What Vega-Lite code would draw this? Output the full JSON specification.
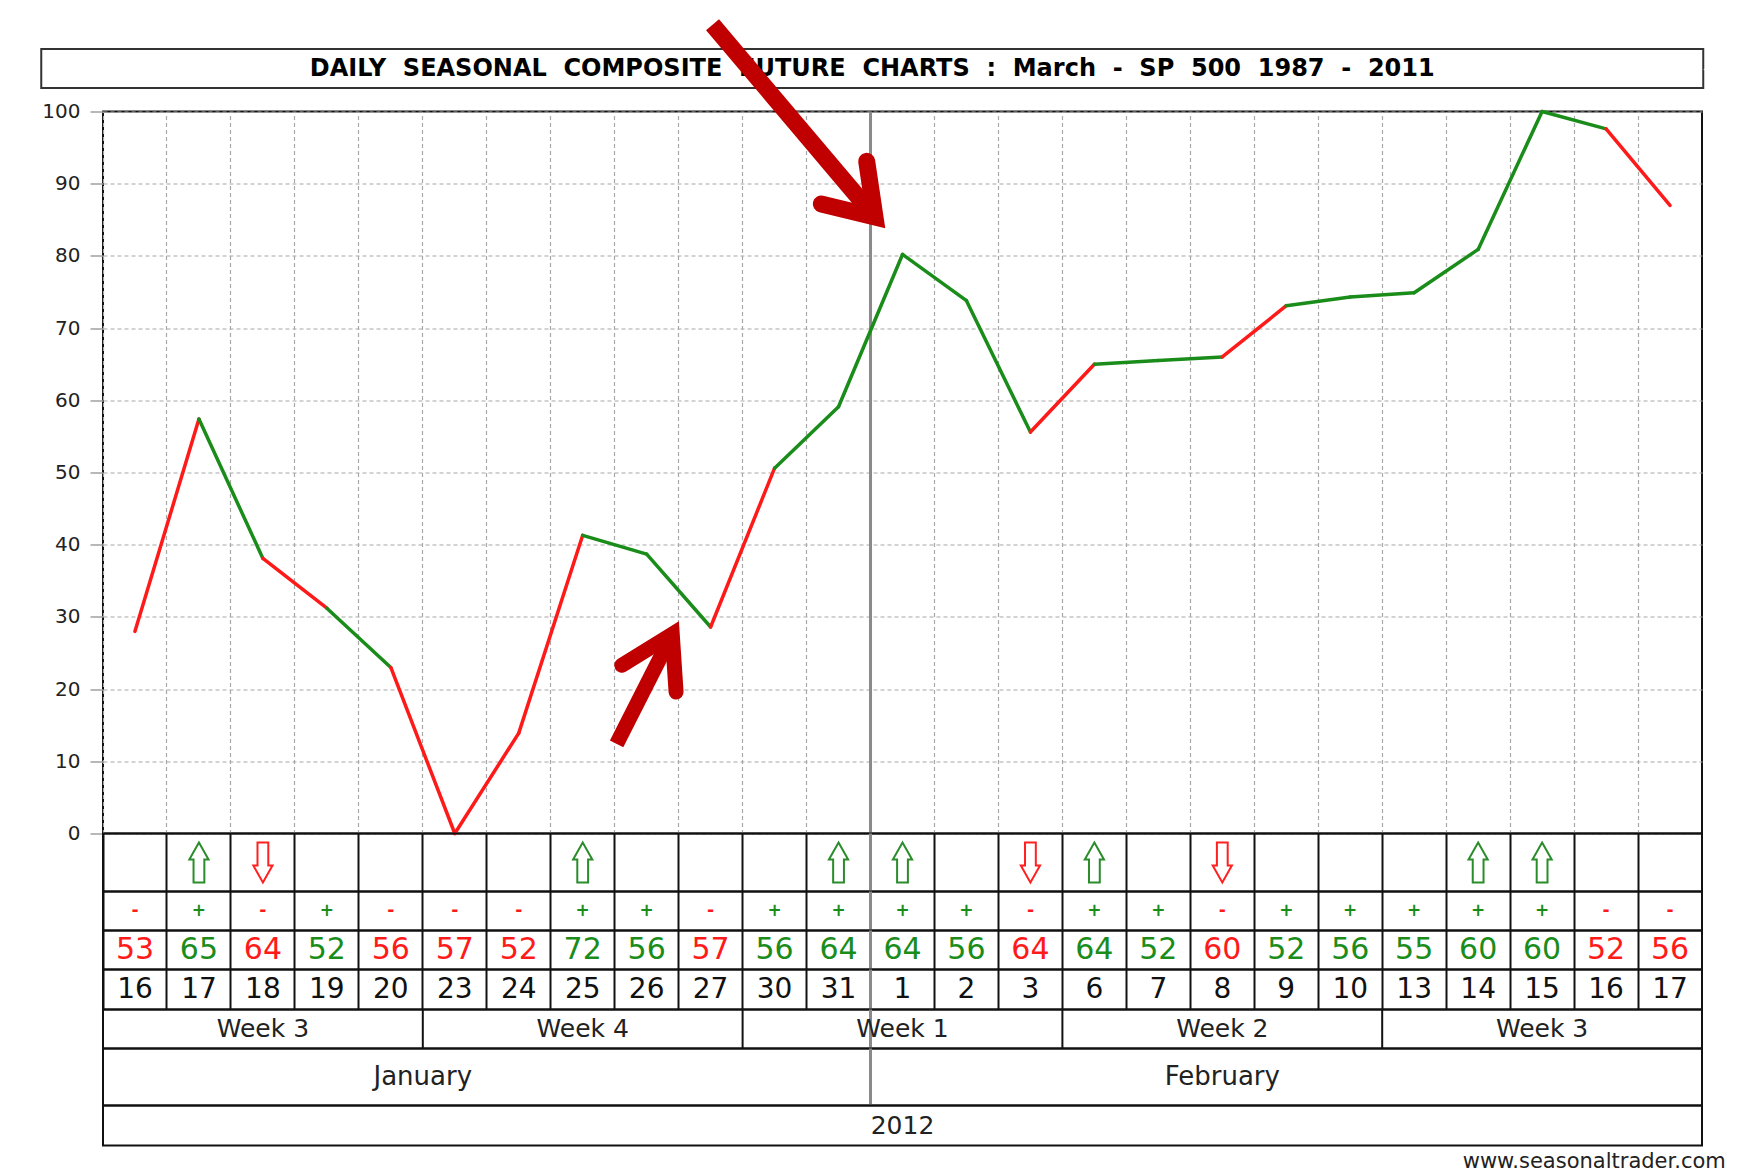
{
  "$schema": "https://vega.github.io/schema/vega-lite/v6.json",
  "background": "white",
  "padding": {"left": 40, "top": -11, "right": 0, "bottom": 0},
  "config": {
    "view": {"stroke": "#111", "strokeWidth": 2},
    "font": "DejaVu Sans",
    "axis": {"title": null}
  },
  "title": {"text": "www.seasonaltrader.com", "orient": "bottom", "anchor": "end", "font": "DejaVu Sans", "fontSize": 21, "fontWeight": "normal", "color": "#222", "offset": 4, "dx": -39},
  "datasets": {
    "days": [
      {"i": 1, "key": "J16", "day": 16, "pct": 53, "sign": "-", "arrow": null, "v": 28},
      {"i": 2, "key": "J17", "day": 17, "pct": 65, "sign": "+", "arrow": "up", "v": 57.4},
      {"i": 3, "key": "J18", "day": 18, "pct": 64, "sign": "-", "arrow": "down", "v": 38.1},
      {"i": 4, "key": "J19", "day": 19, "pct": 52, "sign": "+", "arrow": null, "v": 31.2},
      {"i": 5, "key": "J20", "day": 20, "pct": 56, "sign": "-", "arrow": null, "v": 23},
      {"i": 6, "key": "J23", "day": 23, "pct": 57, "sign": "-", "arrow": null, "v": 0},
      {"i": 7, "key": "J24", "day": 24, "pct": 52, "sign": "-", "arrow": null, "v": 13.9},
      {"i": 8, "key": "J25", "day": 25, "pct": 72, "sign": "+", "arrow": "up", "v": 41.3},
      {"i": 9, "key": "J26", "day": 26, "pct": 56, "sign": "+", "arrow": null, "v": 38.7},
      {"i": 10, "key": "J27", "day": 27, "pct": 57, "sign": "-", "arrow": null, "v": 28.6},
      {"i": 11, "key": "J30", "day": 30, "pct": 56, "sign": "+", "arrow": null, "v": 50.6},
      {"i": 12, "key": "J31", "day": 31, "pct": 64, "sign": "+", "arrow": "up", "v": 59.1},
      {"i": 13, "key": "F1", "day": 1, "pct": 64, "sign": "+", "arrow": "up", "v": 80.2},
      {"i": 14, "key": "F2", "day": 2, "pct": 56, "sign": "+", "arrow": null, "v": 73.8},
      {"i": 15, "key": "F3", "day": 3, "pct": 64, "sign": "-", "arrow": "down", "v": 55.6},
      {"i": 16, "key": "F6", "day": 6, "pct": 64, "sign": "+", "arrow": "up", "v": 65.0},
      {"i": 17, "key": "F7", "day": 7, "pct": 52, "sign": "+", "arrow": null, "v": 65.5},
      {"i": 18, "key": "F8", "day": 8, "pct": 60, "sign": "-", "arrow": "down", "v": 66.0},
      {"i": 19, "key": "F9", "day": 9, "pct": 52, "sign": "+", "arrow": null, "v": 73.1},
      {"i": 20, "key": "F10", "day": 10, "pct": 56, "sign": "+", "arrow": null, "v": 74.3},
      {"i": 21, "key": "F13", "day": 13, "pct": 55, "sign": "+", "arrow": null, "v": 74.9},
      {"i": 22, "key": "F14", "day": 14, "pct": 60, "sign": "+", "arrow": "up", "v": 80.9},
      {"i": 23, "key": "F15", "day": 15, "pct": 60, "sign": "+", "arrow": "up", "v": 100},
      {"i": 24, "key": "F16", "day": 16, "pct": 52, "sign": "-", "arrow": null, "v": 97.6},
      {"i": 25, "key": "F17", "day": 17, "pct": 56, "sign": "-", "arrow": null, "v": 87.0}
    ],
    "weeks": [
      {"week": "Week 3", "start": "J16", "mid": "J18"},
      {"week": "Week 4", "start": "J23", "mid": "J25"},
      {"week": "Week 1", "start": "J30", "mid": "F1"},
      {"week": "Week 2", "start": "F6", "mid": "F8"},
      {"week": "Week 3", "start": "F13", "mid": "F15"}
    ],
    "months": [
      {"month": "January", "start": "J16", "anchor": "J23"},
      {"month": "February", "start": "F1", "anchor": "F8"}
    ],
    "years": [{"year": "2012"}],
    "titles": [{"t": "DAILY \u00a0SEASONAL \u00a0COMPOSITE \u00a0FUTURE \u00a0CHARTS \u00a0: \u00a0March \u00a0- \u00a0SP \u00a0500 \u00a01987 \u00a0- \u00a02011"}],
    "annot": [
      {"arrow": "a1", "line": "a1s", "part": "shaft", "seq": 0, "ax": 9.53, "av": 112.0},
      {"arrow": "a1", "line": "a1s", "part": "shaft", "seq": 1, "ax": 12.07, "av": 85.4},
      {"arrow": "a1", "line": "a1h", "part": "head", "seq": 0, "ax": 11.23, "av": 87.2},
      {"arrow": "a1", "line": "a1h", "part": "head", "seq": 1, "ax": 12.07, "av": 85.4},
      {"arrow": "a1", "line": "a1h", "part": "head", "seq": 2, "ax": 11.94, "av": 93.1},
      {"arrow": "a2", "line": "a2s", "part": "shaft", "seq": 0, "ax": 8.03, "av": 12.4},
      {"arrow": "a2", "line": "a2s", "part": "shaft", "seq": 1, "ax": 8.90, "av": 27.6},
      {"arrow": "a2", "line": "a2h", "part": "head", "seq": 0, "ax": 8.11, "av": 23.3},
      {"arrow": "a2", "line": "a2h", "part": "head", "seq": 1, "ax": 8.90, "av": 27.6},
      {"arrow": "a2", "line": "a2h", "part": "head", "seq": 2, "ax": 8.96, "av": 19.6}
    ]
  },
  "spacing": -99.5,
  "center": true,
  "vconcat": [
    {
      "width": 1662,
      "height": 39,
      "view": {"stroke": "#333", "strokeWidth": 2},
      "data": {"name": "titles"},
      "mark": {"type": "text", "font": "DejaVu Sans", "fontWeight": "bold", "fontSize": 24, "color": "#000"},
      "encoding": {
        "text": {"field": "t"},
        "y": {"field": "t", "type": "nominal", "axis": {"orient": "right", "labels": false, "ticks": true, "tickSize": 60, "tickWidth": 1, "tickColor": "white", "domain": false, "grid": false, "title": null}}
      }
    },
    {
      "bounds": "flush",
      "spacing": 0,
      "vconcat": [
        {
          "width": 1599,
          "height": 722,
          "resolve": {"scale": {"x": "independent"}},
          "layer": [
            {
              "data": {"name": "months"},
              "transform": [{"filter": "datum.start != 'J16'"}],
              "mark": {"type": "rule", "color": "#8a8a8a", "strokeWidth": 3},
              "encoding": {
                "x": {"field": "start", "type": "nominal", "bandPosition": 0,
                  "scale": {"domain": ["J16","J17","J18","J19","J20","J23","J24","J25","J26","J27","J30","J31","F1","F2","F3","F6","F7","F8","F9","F10","F13","F14","F15","F16","F17"], "paddingInner": 0, "paddingOuter": 0},
                  "axis": {"labels": false, "ticks": false, "domain": false, "grid": true, "gridColor": "#a8a8a8", "gridDash": [4, 3], "gridWidth": 1.2, "bandPosition": 0}}
              }
            },
            {
              "data": {"name": "days"},
              "transform": [
                {"window": [{"op": "lead", "field": "v", "as": "nextV"}, {"op": "lead", "field": "key", "as": "nextKey"}], "sort": [{"field": "i"}]},
                {"filter": "datum.nextKey != null"}
              ],
              "mark": {"type": "rule", "strokeWidth": 3.5, "strokeCap": "round"},
              "encoding": {
                "x": {"field": "key", "type": "nominal", "bandPosition": 0.5,
                  "scale": {"domain": ["J16","J17","J18","J19","J20","J23","J24","J25","J26","J27","J30","J31","F1","F2","F3","F6","F7","F8","F9","F10","F13","F14","F15","F16","F17"], "paddingInner": 0, "paddingOuter": 0},
                  "axis": null},
                "x2": {"field": "nextKey"},
                "y": {"field": "v", "type": "quantitative",
                  "scale": {"domain": [0, 100], "nice": false, "zero": false},
                  "axis": {"values": [0, 10, 20, 30, 40, 50, 60, 70, 80, 90, 100], "grid": true, "gridColor": "#a8a8a8", "gridDash": [4, 3], "gridWidth": 1.2, "domain": false, "tickColor": "#a0a0a0", "tickSize": 13, "tickWidth": 1.5, "labelPadding": 10, "labelFont": "DejaVu Sans", "labelFontSize": 20, "labelColor": "#222"}},
                "y2": {"field": "nextV"},
                "color": {"field": "sign", "type": "nominal", "scale": {"domain": ["+", "-"], "range": ["#1a8c1a", "#ff1a1a"]}, "legend": null}
              }
            },
            {
              "data": {"name": "annot"},
              "transform": [{"filter": "datum.part == 'shaft'"}],
              "mark": {"type": "line", "color": "#c00000", "strokeCap": "butt", "strokeJoin": "miter", "clip": false},
              "encoding": {
                "x": {"field": "ax", "type": "quantitative", "scale": {"domain": [0, 25], "nice": false, "zero": false}, "axis": null},
                "y": {"field": "av", "type": "quantitative", "scale": {"domain": [0, 100], "nice": false, "zero": false}},
                "detail": {"field": "line"},
                "order": {"field": "seq"},
                "strokeWidth": {"field": "arrow", "type": "nominal", "scale": {"domain": ["a1", "a2"], "range": [17, 15]}, "legend": null}
              }
            },
            {
              "data": {"name": "annot"},
              "transform": [{"filter": "datum.part == 'head'"}],
              "mark": {"type": "line", "color": "#c00000", "strokeCap": "round", "strokeJoin": "miter", "clip": false},
              "encoding": {
                "x": {"field": "ax", "type": "quantitative", "scale": {"domain": [0, 25], "nice": false, "zero": false}, "axis": null},
                "y": {"field": "av", "type": "quantitative", "scale": {"domain": [0, 100], "nice": false, "zero": false}},
                "detail": {"field": "line"},
                "order": {"field": "seq"},
                "strokeWidth": {"field": "arrow", "type": "nominal", "scale": {"domain": ["a1", "a2"], "range": [17, 15]}, "legend": null}
              }
            }
          ]
        },
        {
          "width": 1599,
          "height": 58,
          "layer": [
            {
              "data": {"name": "months"},
              "transform": [{"filter": "datum.start != 'J16'"}],
              "mark": {"type": "rule", "color": "#8a8a8a", "strokeWidth": 3},
              "encoding": {
                "x": {"field": "start", "type": "nominal", "bandPosition": 0,
                  "scale": {"domain": ["J16","J17","J18","J19","J20","J23","J24","J25","J26","J27","J30","J31","F1","F2","F3","F6","F7","F8","F9","F10","F13","F14","F15","F16","F17"], "paddingInner": 0, "paddingOuter": 0},
                  "axis": {"labels": false, "ticks": false, "domain": false, "grid": true, "gridColor": "#111", "gridWidth": 2, "bandPosition": 0}}
              }
            },
            {
              "data": {"name": "days"},
              "transform": [{"filter": "datum.arrow != null"}],
              "mark": {"type": "point", "filled": false, "fill": "white", "fillOpacity": 1, "strokeWidth": 2, "size": 1600, "opacity": 1},
              "encoding": {
                "x": {"field": "key", "type": "nominal"},
                "shape": {"field": "arrow", "type": "nominal", "scale": {"domain": ["up", "down"], "range": ["M0,-1L0.48,-0.15L0.27,-0.15L0.27,1L-0.27,1L-0.27,-0.15L-0.48,-0.15Z", "M0,1L0.48,0.15L0.27,0.15L0.27,-1L-0.27,-1L-0.27,0.15L-0.48,0.15Z"]}, "legend": null},
                "stroke": {"field": "arrow", "type": "nominal", "scale": {"domain": ["up", "down"], "range": ["#2a8c2a", "#ff2020"]}, "legend": null}
              }
            }
          ]
        },
        {
          "width": 1599,
          "height": 39,
          "layer": [
            {
              "data": {"name": "months"},
              "transform": [{"filter": "datum.start != 'J16'"}],
              "mark": {"type": "rule", "color": "#8a8a8a", "strokeWidth": 3},
              "encoding": {
                "x": {"field": "start", "type": "nominal", "bandPosition": 0,
                  "scale": {"domain": ["J16","J17","J18","J19","J20","J23","J24","J25","J26","J27","J30","J31","F1","F2","F3","F6","F7","F8","F9","F10","F13","F14","F15","F16","F17"], "paddingInner": 0, "paddingOuter": 0},
                  "axis": {"labels": false, "ticks": false, "domain": false, "grid": true, "gridColor": "#111", "gridWidth": 2, "bandPosition": 0}}
              }
            },
            {
              "data": {"name": "days"},
              "mark": {"type": "text", "font": "DejaVu Sans", "fontWeight": "bold", "fontSize": 17},
              "encoding": {
                "x": {"field": "key", "type": "nominal"},
                "text": {"field": "sign"},
                "color": {"field": "sign", "type": "nominal", "scale": {"domain": ["+", "-"], "range": ["#0a7a0a", "#ff1a1a"]}, "legend": null}
              }
            }
          ]
        },
        {
          "width": 1599,
          "height": 39,
          "layer": [
            {
              "data": {"name": "months"},
              "transform": [{"filter": "datum.start != 'J16'"}],
              "mark": {"type": "rule", "color": "#8a8a8a", "strokeWidth": 3},
              "encoding": {
                "x": {"field": "start", "type": "nominal", "bandPosition": 0,
                  "scale": {"domain": ["J16","J17","J18","J19","J20","J23","J24","J25","J26","J27","J30","J31","F1","F2","F3","F6","F7","F8","F9","F10","F13","F14","F15","F16","F17"], "paddingInner": 0, "paddingOuter": 0},
                  "axis": {"labels": false, "ticks": false, "domain": false, "grid": true, "gridColor": "#111", "gridWidth": 2, "bandPosition": 0}}
              }
            },
            {
              "data": {"name": "days"},
              "mark": {"type": "text", "font": "DejaVu Sans", "fontSize": 30},
              "encoding": {
                "x": {"field": "key", "type": "nominal"},
                "text": {"field": "pct"},
                "color": {"field": "sign", "type": "nominal", "scale": {"domain": ["+", "-"], "range": ["#2a962a", "#ff1a1a"]}, "legend": null}
              }
            }
          ]
        },
        {
          "width": 1599,
          "height": 40,
          "layer": [
            {
              "data": {"name": "months"},
              "transform": [{"filter": "datum.start != 'J16'"}],
              "mark": {"type": "rule", "color": "#8a8a8a", "strokeWidth": 3},
              "encoding": {
                "x": {"field": "start", "type": "nominal", "bandPosition": 0,
                  "scale": {"domain": ["J16","J17","J18","J19","J20","J23","J24","J25","J26","J27","J30","J31","F1","F2","F3","F6","F7","F8","F9","F10","F13","F14","F15","F16","F17"], "paddingInner": 0, "paddingOuter": 0},
                  "axis": {"labels": false, "ticks": false, "domain": false, "grid": true, "gridColor": "#111", "gridWidth": 2, "bandPosition": 0}}
              }
            },
            {
              "data": {"name": "days"},
              "mark": {"type": "text", "font": "DejaVu Sans", "fontSize": 28, "color": "#111"},
              "encoding": {
                "x": {"field": "key", "type": "nominal"},
                "text": {"field": "day"}
              }
            }
          ]
        },
        {
          "width": 1599,
          "height": 39,
          "layer": [
            {
              "data": {"name": "weeks"},
              "transform": [{"filter": "datum.start != 'J16'"}],
              "mark": {"type": "rule", "color": "#111", "strokeWidth": 2},
              "encoding": {
                "x": {"field": "start", "type": "nominal", "bandPosition": 0,
                  "scale": {"domain": ["J16","J17","J18","J19","J20","J23","J24","J25","J26","J27","J30","J31","F1","F2","F3","F6","F7","F8","F9","F10","F13","F14","F15","F16","F17"], "paddingInner": 0, "paddingOuter": 0},
                  "axis": null}
              }
            },
            {
              "data": {"name": "months"},
              "transform": [{"filter": "datum.start != 'J16'"}],
              "mark": {"type": "rule", "color": "#8a8a8a", "strokeWidth": 3},
              "encoding": {
                "x": {"field": "start", "type": "nominal", "bandPosition": 0}
              }
            },
            {
              "data": {"name": "weeks"},
              "mark": {"type": "text", "font": "DejaVu Sans", "fontSize": 25, "color": "#222"},
              "encoding": {
                "x": {"field": "mid", "type": "nominal"},
                "text": {"field": "week"}
              }
            }
          ]
        },
        {
          "width": 1599,
          "height": 57,
          "layer": [
            {
              "data": {"name": "months"},
              "transform": [{"filter": "datum.start != 'J16'"}],
              "mark": {"type": "rule", "color": "#8a8a8a", "strokeWidth": 3},
              "encoding": {
                "x": {"field": "start", "type": "nominal", "bandPosition": 0,
                  "scale": {"domain": ["J16","J17","J18","J19","J20","J23","J24","J25","J26","J27","J30","J31","F1","F2","F3","F6","F7","F8","F9","F10","F13","F14","F15","F16","F17"], "paddingInner": 0, "paddingOuter": 0},
                  "axis": null}
              }
            },
            {
              "data": {"name": "months"},
              "transform": [{"filter": "datum.month == 'January'"}],
              "mark": {"type": "text", "font": "DejaVu Sans", "fontSize": 26, "color": "#222"},
              "encoding": {
                "x": {"field": "anchor", "type": "nominal", "bandPosition": 0},
                "text": {"field": "month"}
              }
            },
            {
              "data": {"name": "months"},
              "transform": [{"filter": "datum.month == 'February'"}],
              "mark": {"type": "text", "font": "DejaVu Sans", "fontSize": 26, "color": "#222"},
              "encoding": {
                "x": {"field": "anchor", "type": "nominal", "bandPosition": 0.5},
                "text": {"field": "month"}
              }
            }
          ]
        },
        {
          "width": 1599,
          "height": 40,
          "view": {"stroke": "#111", "strokeWidth": 2},
          "data": {"name": "years"},
          "mark": {"type": "text", "font": "DejaVu Sans", "fontSize": 25, "color": "#222"},
          "encoding": {"text": {"field": "year"}}
        }
      ]
    }
  ]
}
